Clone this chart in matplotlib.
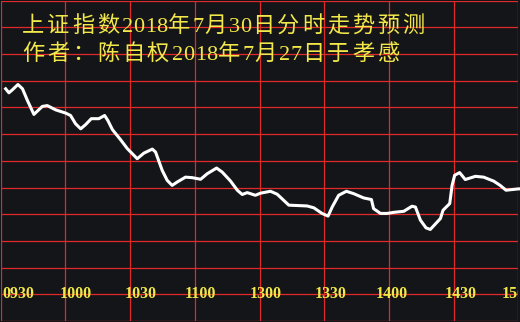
import matplotlib
matplotlib.use('Agg')
import matplotlib.pyplot as plt

# minutes after 09:30 (trading minutes, 240 = 15:00) and level in grid units
minutes = [2.3, 3.8, 5.4, 8.0, 10.1, 12.4, 15.4, 19.3, 21.6, 25.5, 30.1, 32.4,
           34.7, 37.1, 39.4, 42.0, 45.5, 48.2, 49.7, 51.8, 55.6, 58.7, 63.3,
           66.4, 70.3, 71.8, 74.9, 77.2, 79.5, 81.9, 85.7, 88.8, 92.7, 95.8,
           100.1, 102.7, 106.6, 109.7, 112.0, 114.3, 118.1, 120.5, 125.1,
           128.2, 133.6, 142.1, 145.2, 149.0, 151.8, 153.7, 156.7, 160.3,
           163.7, 168.3, 171.9, 172.9, 176.1, 179.2, 182.2, 186.9, 190.7,
           192.3, 194.6, 197.2, 199.2, 203.9, 205.1, 208.2, 209.3, 210.5,
           212.8, 215.4, 220.1, 223.9, 228.6, 231.6, 234.3, 240.1, 241.5]
level = [8.70, 8.55, 8.66, 8.86, 8.70, 8.26, 7.74, 8.04, 8.07, 7.91, 7.79, 7.70,
         7.39, 7.20, 7.36, 7.58, 7.58, 7.70, 7.51, 7.17, 6.79, 6.46, 6.08,
         6.29, 6.44, 6.33, 5.64, 5.27, 5.08, 5.21, 5.39, 5.37, 5.31, 5.52,
         5.73, 5.58, 5.24, 4.90, 4.74, 4.81, 4.71, 4.79, 4.86,
         4.75, 4.34, 4.31, 4.24, 4.03, 3.93, 4.27, 4.71, 4.86,
         4.77, 4.61, 4.55, 4.21, 4.03, 4.03, 4.07, 4.11, 4.30,
         4.27, 3.78, 3.49, 3.43, 3.84, 4.15, 4.40, 5.08, 5.46,
         5.56, 5.30, 5.42, 5.39, 5.24, 5.08, 4.90, 4.95, 4.95]

tick_minutes = [0, 30, 60, 90, 120, 150, 180, 210, 240]
tick_labels = ['0930', '1000', '1030', '1100', '1300', '1330', '1400', '1430', '1500']
# where each label is centred (minutes), they do not sit exactly on the lines
label_pos = [8.1, 34.8, 64.9, 92.7, 123.0, 152.9, 181.2, 213.2, 239.8]

title1 = '上证指数2018年7月30日分时走势预测'
title2 = '作者： 陈自权2018年7月27日于孝感'

bg = '#141518'
red = '#e02a2a'
yellow = '#f2e84a'
fonts = ['Liberation Serif', 'Noto Sans CJK SC', 'DejaVu Sans']

W, H = 520, 322
fig = plt.figure(figsize=(W / 100, H / 100), dpi=100, facecolor=bg)
ax = fig.add_axes([0.7 / W, 1 / H, 517.6 / W, 320.3 / H])
ax.set_facecolor(bg)
ax.set_xlim(0, 240)
ax.set_ylim(0, 12)
ax.set_xticks(tick_minutes)
ax.set_yticks(range(13))
ax.grid(True, color=red, lw=0.9)
ax.tick_params(length=0, labelbottom=False, labelleft=False)
for s in ax.spines.values():
    s.set_visible(False)

ax.plot(minutes, level, color='white', lw=2.2, clip_on=False, zorder=3)

# time labels sit on the second grid line from the bottom
for m, lab in zip(label_pos, tick_labels):
    ax.text(m, 1, lab, ha='center', va='center', color=yellow,
            fontsize=11.5, weight='bold', family=fonts, clip_on=True)


def spaced_text(s, x0, baseline):
    # the original font is wider spaced than Noto, so place glyph by glyph
    x = x0
    for ch in s:
        if ch == ' ':
            continue
        fig.text(x / W, 1 - baseline / H, ch, ha='left', va='baseline',
                 color=yellow, fontsize=16, family=fonts)
        x += 11.4 if ch.isascii() else 25


spaced_text(title1, 22, 32)
spaced_text(title2, 22, 60)

fig.savefig('out.png', dpi=100, facecolor=bg)
